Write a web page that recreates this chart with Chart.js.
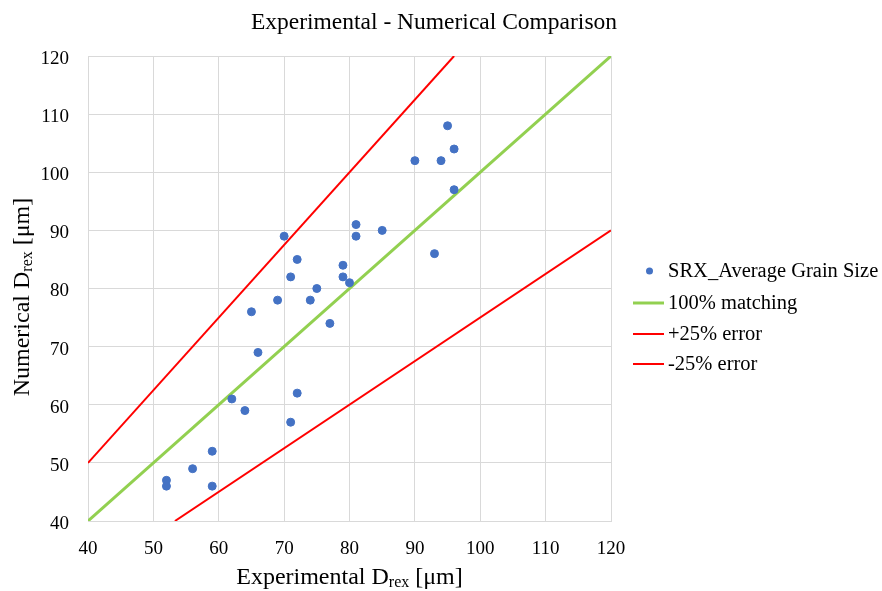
<!DOCTYPE html>
<html>
<head>
<meta charset="utf-8">
<script src="https://cdn.jsdelivr.net/npm/chart.js@4.4.1/dist/chart.umd.min.js"></script>
<style>
  html, body { margin: 0; padding: 0; background: #fff; }
  #wrap { width: 882px; height: 591px; position: relative; }
</style>
</head>
<body>
<div id="wrap"><canvas id="chart"></canvas></div>
<script>
const chartTitle = 'Experimental - Numerical Comparison';
const xTitle = ['Experimental D', 'rex', ' [μm]'];
const yTitle = ['Numerical D', 'rex', ' [μm]'];
const seriesLabels = ['SRX_Average Grain Size', '100% matching', '+25% error', '-25% error'];

// measured points: experimental vs numerical grain size
const expSize = [52, 52, 56, 59, 59, 62, 64, 65, 66, 69, 70, 71, 71, 72, 72,
                 74, 75, 77, 79, 79, 80, 81, 81, 85, 90, 93, 94, 95, 96, 96];
const numSize = [47, 46, 49, 52, 46, 61, 59, 76, 69, 78, 89, 82, 57, 85, 62,
                 78, 80, 74, 84, 82, 81, 91, 89, 90, 102, 86, 102, 108, 104, 97];

// reference lines (end points)
const matchX = [40, 120], matchY = [40, 120];
const plusX = [40, 96], plusY = [50, 120];
const minusX = [53.3, 120], minusY = [40, 90];

// axis range
const axisMin = 40, axisMax = 120, axisStep = 10;

const FONT = "'Liberation Serif', 'Times New Roman', serif";
Chart.defaults.font.family = FONT;
Chart.defaults.color = '#000';

const toPoints = (xs, ys) => xs.map((x, i) => ({ x: x, y: ys[i] }));

function drawSubText(ctx, parts, cx, baseY, size) {
    const big = size + 'px ' + FONT;
    const small = Math.round(size * 0.66) + 'px ' + FONT;
    ctx.font = big;
    const w0 = ctx.measureText(parts[0]).width;
    const w2 = ctx.measureText(parts[2]).width;
    ctx.font = small;
    const w1 = ctx.measureText(parts[1]).width;
    let x = cx - (w0 + w1 + w2) / 2;
    ctx.textAlign = 'left';
    ctx.textBaseline = 'alphabetic';
    ctx.font = big;
    ctx.fillText(parts[0], x, baseY);
    x += w0;
    ctx.font = small;
    ctx.fillText(parts[1], x, baseY + size * 0.14);
    x += w1;
    ctx.font = big;
    ctx.fillText(parts[2], x, baseY);
}

// title, axis titles (with subscript) and legend
const textPlugin = {
    id: 'textPlugin',
    afterDraw(chart) {
        const ctx = chart.ctx;
        const area = chart.chartArea;
        ctx.save();
        ctx.fillStyle = '#000';

        ctx.font = '23.5px ' + FONT;
        ctx.textAlign = 'center';
        ctx.textBaseline = 'alphabetic';
        ctx.fillText(chartTitle, 434, 29);

        drawSubText(ctx, xTitle, (area.left + area.right) / 2, 584, 24);

        ctx.save();
        ctx.translate(29, 297);
        ctx.rotate(-Math.PI / 2);
        drawSubText(ctx, yTitle, 0, 0, 24);
        ctx.restore();

        // legend
        const rows = [271, 303, 334, 364];
        chart.data.datasets.forEach((ds, i) => {
            const y = rows[i];
            if (ds.showLine) {
                ctx.strokeStyle = ds.borderColor;
                ctx.lineWidth = ds.borderWidth;
                ctx.beginPath();
                ctx.moveTo(633, y);
                ctx.lineTo(664, y);
                ctx.stroke();
            } else {
                ctx.fillStyle = ds.backgroundColor;
                ctx.beginPath();
                ctx.arc(649.5, y, 3.5, 0, Math.PI * 2);
                ctx.fill();
            }
            ctx.fillStyle = '#000';
            ctx.font = '20.5px ' + FONT;
            ctx.textAlign = 'left';
            ctx.textBaseline = 'middle';
            ctx.fillText(ds.label, 668, y + 1);
        });
        ctx.restore();
    }
};

const axisOptions = (pad, offset) => ({
    type: 'linear',
    min: axisMin,
    max: axisMax,
    ticks: { stepSize: axisStep, padding: pad, labelOffset: offset, color: '#000', font: { size: 19 } },
    grid: { color: '#d9d9d9', drawTicks: false },
    border: { color: '#d9d9d9' }
});

const xAxis = axisOptions(17, 0);
xAxis.afterFit = (scale) => { scale.height = 70; };
const yAxis = axisOptions(19, 3);
yAxis.afterFit = (scale) => { scale.width = 88; };

new Chart(document.getElementById('chart'), {
    type: 'scatter',
    data: {
        datasets: [
            {
                label: seriesLabels[0],
                data: toPoints(expSize, numSize),
                backgroundColor: '#4472c4',
                borderColor: '#4472c4',
                pointRadius: 4,
                pointHoverRadius: 4
            },
            {
                label: seriesLabels[1],
                data: toPoints(matchX, matchY),
                showLine: true,
                borderColor: '#92d050',
                borderWidth: 3,
                pointRadius: 0
            },
            {
                label: seriesLabels[2],
                data: toPoints(plusX, plusY),
                showLine: true,
                borderColor: '#ff0000',
                borderWidth: 2,
                pointRadius: 0
            },
            {
                label: seriesLabels[3],
                data: toPoints(minusX, minusY),
                showLine: true,
                borderColor: '#ff0000',
                borderWidth: 2,
                pointRadius: 0
            }
        ]
    },
    options: {
        responsive: true,
        maintainAspectRatio: false,
        animation: false,
        layout: { padding: { left: 0, top: 56, right: 271, bottom: 0 } },
        plugins: {
            legend: { display: false },
            title: { display: false },
            tooltip: { enabled: false }
        },
        scales: { x: xAxis, y: yAxis }
    },
    plugins: [textPlugin]
});
</script>
</body>
</html>
